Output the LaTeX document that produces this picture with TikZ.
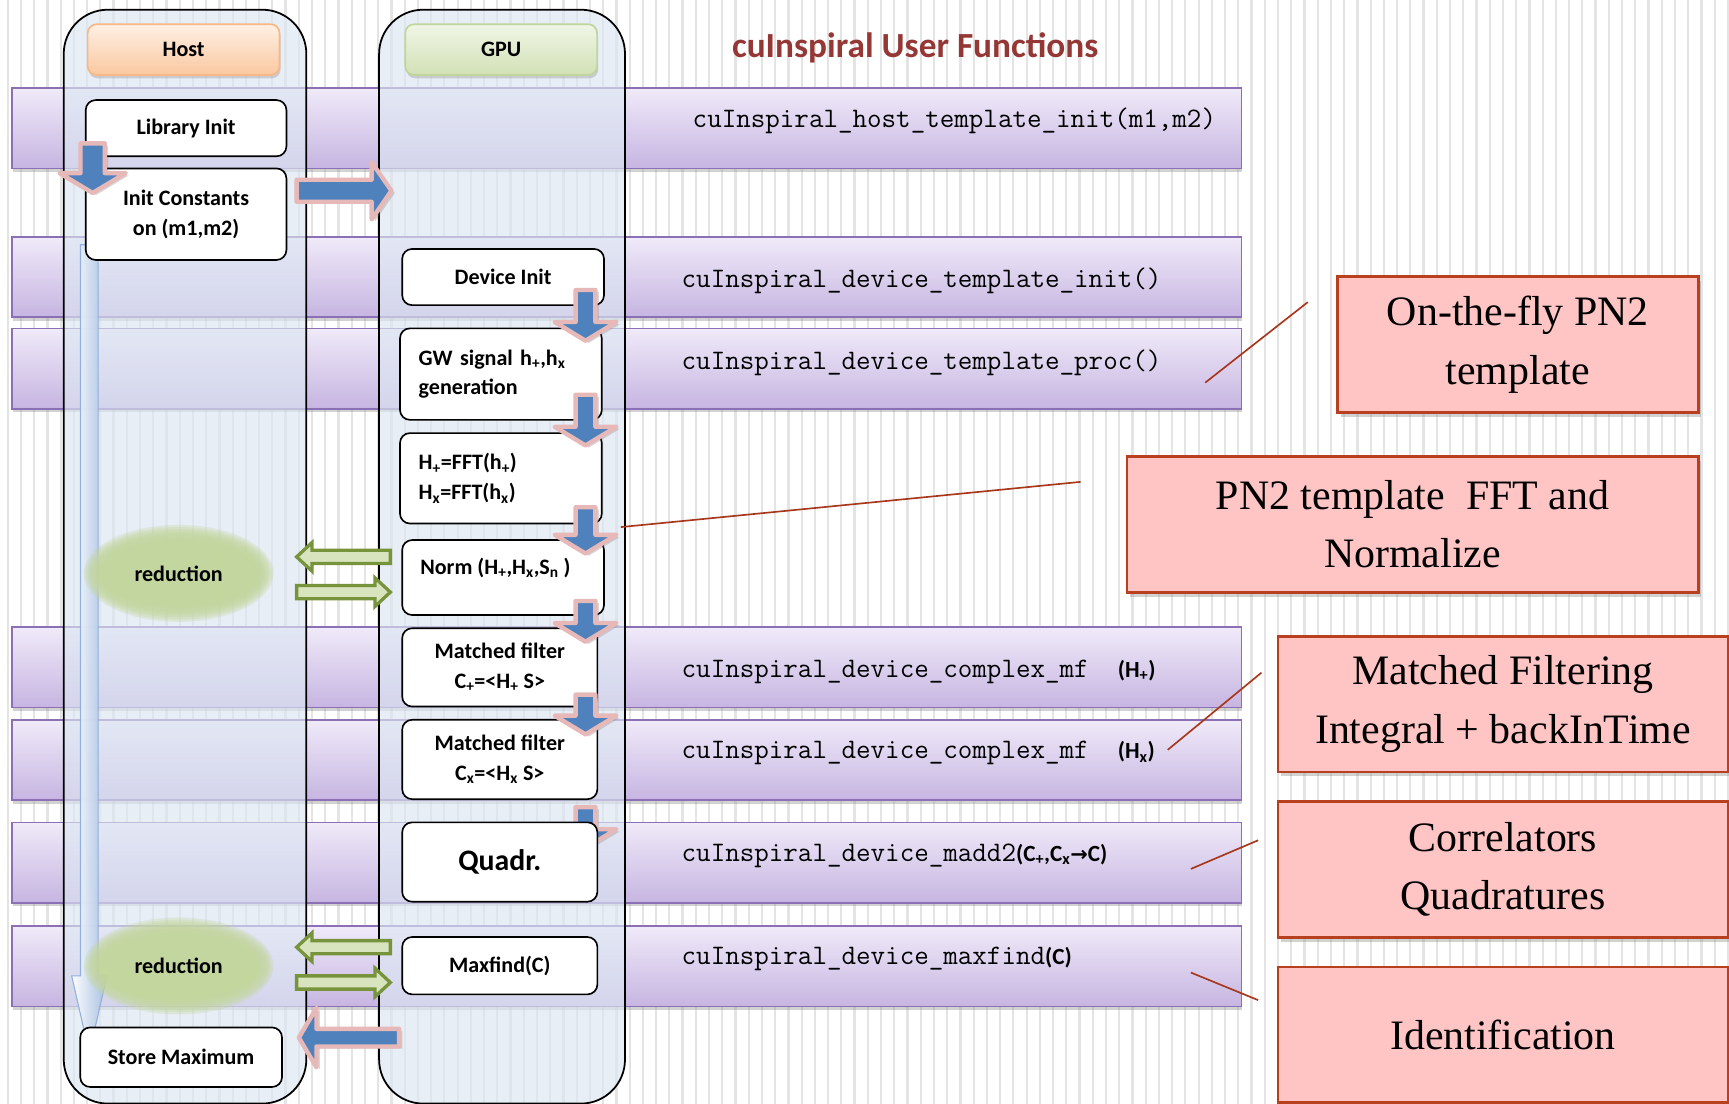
\documentclass[tikz,border=0pt]{standalone}
\usepackage{fontspec}
\setmainfont{Carlito}
\newfontfamily\callfont{Liberation Serif}
\newfontfamily\symfont{DejaVu Sans}
\usetikzlibrary{calc,shadows,shapes.geometric}

\definecolor{stripegray}{HTML}{E4E4E4}
\definecolor{titlered}{HTML}{953735}
\definecolor{bandtop}{HTML}{F0EAF9}
\definecolor{bandbot}{HTML}{C6B5E1}
\definecolor{bandline}{HTML}{8C70B5}
\definecolor{lanefill}{HTML}{DCE6F2}
\definecolor{hosttop}{HTML}{FEF0E4}
\definecolor{hostbot}{HTML}{FAC8A0}
\definecolor{hostline}{HTML}{F8B784}
\definecolor{gputop}{HTML}{F0F5E6}
\definecolor{gpubot}{HTML}{D2E1B6}
\definecolor{gpuline}{HTML}{C0D59A}
\definecolor{stepblue}{HTML}{4F81BD}
\definecolor{steppink}{HTML}{E6B9B8}
\definecolor{redgreen}{HTML}{C3D69B}
\definecolor{hollowfill}{HTML}{D7E4BD}
\definecolor{hollowline}{HTML}{77933C}
\definecolor{flowlight}{HTML}{A3BEE2}
\definecolor{flowedge}{HTML}{8FAEDA}
\definecolor{notefill}{HTML}{FFC5C5}
\definecolor{noteline}{HTML}{B8401F}
\definecolor{leadercol}{HTML}{A8361A}

\newcommand\boxfont{\bfseries\fontsize{20}{27}\selectfont}
\newcommand\lowsub[1]{\textsubscript{#1}}

% block arrows: #1 style, #2 tail, #3 tip, #4 half shaft, #5 half head, #6 head length
\newcommand\blkdown[6]{%
  \draw[#1] ($#2+(-#4,0)$) -- ($#3+(-#4,-#6)$) -- ($#3+(-#5,-#6)$) -- #3
    -- ($#3+(#5,-#6)$) -- ($#3+(#4,-#6)$) -- ($#2+(#4,0)$) -- cycle;}
\newcommand\blkright[6]{%
  \draw[#1] ($#2+(0,-#4)$) -- ($#3+(-#6,-#4)$) -- ($#3+(-#6,-#5)$) -- #3
    -- ($#3+(-#6,#5)$) -- ($#3+(-#6,#4)$) -- ($#2+(0,#4)$) -- cycle;}
\newcommand\blkleft[6]{%
  \draw[#1] ($#2+(0,-#4)$) -- ($#3+(#6,-#4)$) -- ($#3+(#6,-#5)$) -- #3
    -- ($#3+(#6,#5)$) -- ($#3+(#6,#4)$) -- ($#2+(0,#4)$) -- cycle;}

\begin{document}
\begin{tikzpicture}[x=1pt,y=-1pt,
  stripe/.style={draw=stripegray,line width=2pt},
  band/.style={draw=bandline,line width=1.5pt,top color=bandtop,bottom color=bandbot,
    anchor=north west,minimum width=1115pt,minimum height=73pt,inner sep=0pt,
    drop shadow={shadow xshift=1pt,shadow yshift=-3pt,opacity=0.35}},
  fn/.style={anchor=west,font=\ttfamily\fontsize{25.6}{30}\selectfont,text=black,inner sep=0pt},
  lane/.style={draw=black,line width=1.6pt,fill=lanefill,fill opacity=0.65,
    rounded corners=40pt,anchor=north west,minimum height=992pt,inner sep=0pt},
  lanehead/.style={rounded corners=8pt,minimum width=174pt,minimum height=46pt,
    line width=1.5pt,font=\boxfont,
    drop shadow={shadow xshift=1pt,shadow yshift=-3pt,opacity=0.3}},
  hosthead/.style={lanehead,draw=hostline,top color=hosttop,bottom color=hostbot},
  gpuhead/.style={lanehead,draw=gpuline,top color=gputop,bottom color=gpubot},
  stepbox/.style={draw=black,line width=1.5pt,fill=white,rounded corners=9pt,
    font=\boxfont,anchor=north west,inner sep=0pt,align=center},
  leftbox/.style={stepbox,align=left,inner xsep=17pt,text width=149pt},
  pipe/.style={fill=stepblue,draw=steppink,line width=4pt,line join=round,
    drop shadow={shadow xshift=3pt,shadow yshift=-2pt,opacity=0.3}},
  hollow/.style={fill=hollowfill,draw=hollowline,line width=3pt},
  flow/.style={left color=white,right color=flowlight,draw=flowedge,line width=1pt,opacity=0.95},
  note/.style={fill=notefill,draw=noteline,line width=2.5pt,
    font=\callfont\fontsize{38}{53}\selectfont,align=center,inner sep=0pt,
    drop shadow={shadow xshift=3pt,shadow yshift=-4pt,opacity=0.35}},
  leader/.style={draw=leadercol,line width=1.5pt}
]
\useasboundingbox (0,0) rectangle (1568,1001);

% striped background
\fill[white] (0,0) rectangle (1568,1001);
\foreach \sx in {7,19,...,1567} \draw[stripe] (\sx,0) -- (\sx,1001);

% title
\node[font=\bfseries\fontsize{32}{38}\selectfont,text=titlered] (title) at (830,43) {cuInspiral User Functions};

% function bands
\node[band] (b1) at (10,79) {};
\node[band] (b2) at (10,214) {};
\node[band] (b3) at (10,297) {};
\node[band] (b4) at (10,568) {};
\node[band] (b5) at (10,652) {};
\node[band] (b6) at (10,745) {};
\node[band] (b7) at (10,839) {};

\node[fn] (f1) at (628,110) {cuInspiral\_host\_template\_init(m1,m2)};
\node[fn] (f2) at (618,255) {cuInspiral\_device\_template\_init()};
\node[fn] (f3) at (618,329) {cuInspiral\_device\_template\_proc()};
\node[fn] (f4) at (618,609) {cuInspiral\_device\_complex\_mf\ \ {\rmfamily\bfseries\fontsize{21}{25}\selectfont(H\lowsub{+})}};
\node[fn] (f5) at (618,683) {cuInspiral\_device\_complex\_mf\ \ {\rmfamily\bfseries\fontsize{21}{25}\selectfont(H\lowsub{x})}};
\node[fn] (f6) at (618,776) {cuInspiral\_device\_madd2{\rmfamily\bfseries\fontsize{21}{25}\selectfont(C\lowsub{+},C\lowsub{x}{\symfont\fontsize{19}{25}\selectfont→}C)}};
\node[fn] (f7) at (618,870) {cuInspiral\_device\_maxfind{\rmfamily\bfseries\fontsize{21}{25}\selectfont(C)}};

% swim lanes
\node[lane,minimum width=220pt] (hostlane) at (57,8) {};
\node[lane,minimum width=223pt] (gpulane) at (343,8) {};
\node[hosthead] (hosthd) at (166.5,45) {Host};
\node[gpuhead] (gpuhd) at (454.5,45) {GPU};

% host-side time line
\coordinate (flowtop) at (81,222);
\coordinate (flowtip) at (81,955);
\blkdown{flow}{(flowtop)}{(flowtip)}{8}{16}{70}

% reductions on the host
\foreach \k in {0,...,7}
  \fill[redgreen,opacity=0.3] (162,520) ellipse [x radius={86-2*\k}, y radius={44-2*\k}];
\foreach \k in {0,...,7}
  \fill[redgreen,opacity=0.3] (162,876) ellipse [x radius={86-2*\k}, y radius={44-2*\k}];
\node[ellipse,minimum width=162pt,minimum height=78pt,font=\boxfont] (red1) at (162,520) {reduction};
\node[ellipse,minimum width=162pt,minimum height=78pt,font=\boxfont] (red2) at (162,876) {reduction};

% host steps
\node[stepbox,minimum width=182pt,minimum height=51pt] (lib) at (77,90) {Library Init};
\node[stepbox,minimum width=182pt,minimum height=83pt] (initc) at (77,152) {Init Constants\\on (m1,m2)};
\node[stepbox,minimum width=183pt,minimum height=54pt] (store) at (72,931) {Store Maximum};

% device steps
\node[stepbox,minimum width=183pt,minimum height=51pt] (dev) at (364,225) {Device Init};
\node[leftbox,minimum height=83pt] (gw) at (362,297) {GW signal h\lowsub{+},h\lowsub{x}\\generation};
\node[leftbox,minimum height=82pt] (fft) at (362,392) {H\lowsub{+}=FFT(h\lowsub{+})\\H\lowsub{x}=FFT(h\lowsub{x})};
\node[stepbox,minimum width=183pt,minimum height=68pt] (norm) at (364,489) {};
\node[font=\boxfont,anchor=west,inner sep=0pt] (normtxt) at ($(norm.north west)+(17,26)$) {Norm (H\lowsub{+},H\lowsub{x},S\lowsub{n} )};
\node[stepbox,minimum width=177pt,minimum height=71pt] (mf1) at (364,569) {Matched filter\\C\lowsub{+}=<H\lowsub{+} S>};
\node[stepbox,minimum width=177pt,minimum height=72pt] (mf2) at (364,652) {Matched filter\\C\lowsub{x}=<H\lowsub{x} S>};
\coordinate (a6t) at (531,732); \coordinate (a6h) at (531,769);
\blkdown{pipe}{(a6t)}{(a6h)}{9}{28}{17}
\node[stepbox,minimum width=177pt,minimum height=72pt,font=\bfseries\fontsize{27}{32}\selectfont] (quadr) at (364,745) {Quadr.};
\node[stepbox,minimum width=177pt,minimum height=52pt] (maxf) at (364,849) {Maxfind(C)};

% block arrows between steps
\coordinate (a0t) at (84,130); \coordinate (a0h) at (84,175);
\blkdown{pipe}{(a0t)}{(a0h)}{11}{30}{18}
\coordinate (c0t) at (269,173); \coordinate (c0h) at (355,173);
\blkright{pipe}{(c0t)}{(c0h)}{10}{26}{18}
\coordinate (a1t) at (531,263); \coordinate (a1h) at (531,309);
\blkdown{pipe}{(a1t)}{(a1h)}{9}{28}{17}
\coordinate (a2t) at (531,358); \coordinate (a2h) at (531,404);
\blkdown{pipe}{(a2t)}{(a2h)}{9}{28}{17}
\coordinate (a3t) at (531,460); \coordinate (a3h) at (531,502);
\blkdown{pipe}{(a3t)}{(a3h)}{9}{28}{17}
\coordinate (a4t) at (531,545); \coordinate (a4h) at (531,582);
\blkdown{pipe}{(a4t)}{(a4h)}{9}{28}{17}
\coordinate (a5t) at (531,630); \coordinate (a5h) at (531,666);
\blkdown{pipe}{(a5t)}{(a5h)}{9}{28}{17}
\coordinate (c9t) at (362,941); \coordinate (c9h) at (271,941);
\blkleft{pipe}{(c9t)}{(c9h)}{8}{27}{16}

% exchanges with the reductions
\coordinate (g1t) at (354,505); \coordinate (g1h) at (269,505);
\blkleft{hollow}{(g1t)}{(g1h)}{6}{13}{14}
\coordinate (g2t) at (269,537); \coordinate (g2h) at (354,537);
\blkright{hollow}{(g2t)}{(g2h)}{6}{13}{14}
\coordinate (g3t) at (354,859); \coordinate (g3h) at (269,859);
\blkleft{hollow}{(g3t)}{(g3h)}{6}{13}{14}
\coordinate (g4t) at (269,891); \coordinate (g4h) at (354,891);
\blkright{hollow}{(g4t)}{(g4h)}{6}{13}{14}

% notes
\node[note,minimum width=327pt,minimum height=123pt] (n1) at (1376.5,312.5) {On-the-fly PN2\\template};
\node[note,minimum width=518pt,minimum height=123pt] (n2) at (1281,475.5) {PN2 template\ \ FFT and\\Normalize};
\node[note,minimum width=408pt,minimum height=123pt] (n3) at (1363,638.5) {Matched Filtering\\Integral + backInTime};
\node[note,minimum width=408pt,minimum height=123pt] (n4) at (1363,788.5) {Correlators\\Quadratures};
\node[note,minimum width=408pt,minimum height=123pt] (n5) at (1363,938.5) {Identification};

% leader lines
\coordinate (l1a) at (1093,347); \coordinate (l1b) at (1186,274);
\draw[leader] (l1a) -- (l1b);
\coordinate (l2a) at (563,478); \coordinate (l2b) at (980,437);
\draw[leader] (l2a) -- (l2b);
\coordinate (l3a) at (1059,680); \coordinate (l3b) at (1144,610);
\draw[leader] (l3a) -- (l3b);
\coordinate (l4a) at (1080,788); \coordinate (l4b) at (1141,762);
\draw[leader] (l4a) -- (l4b);
\coordinate (l5a) at (1080,882); \coordinate (l5b) at (1141,907);
\draw[leader] (l5a) -- (l5b);
\end{tikzpicture}
\end{document}
